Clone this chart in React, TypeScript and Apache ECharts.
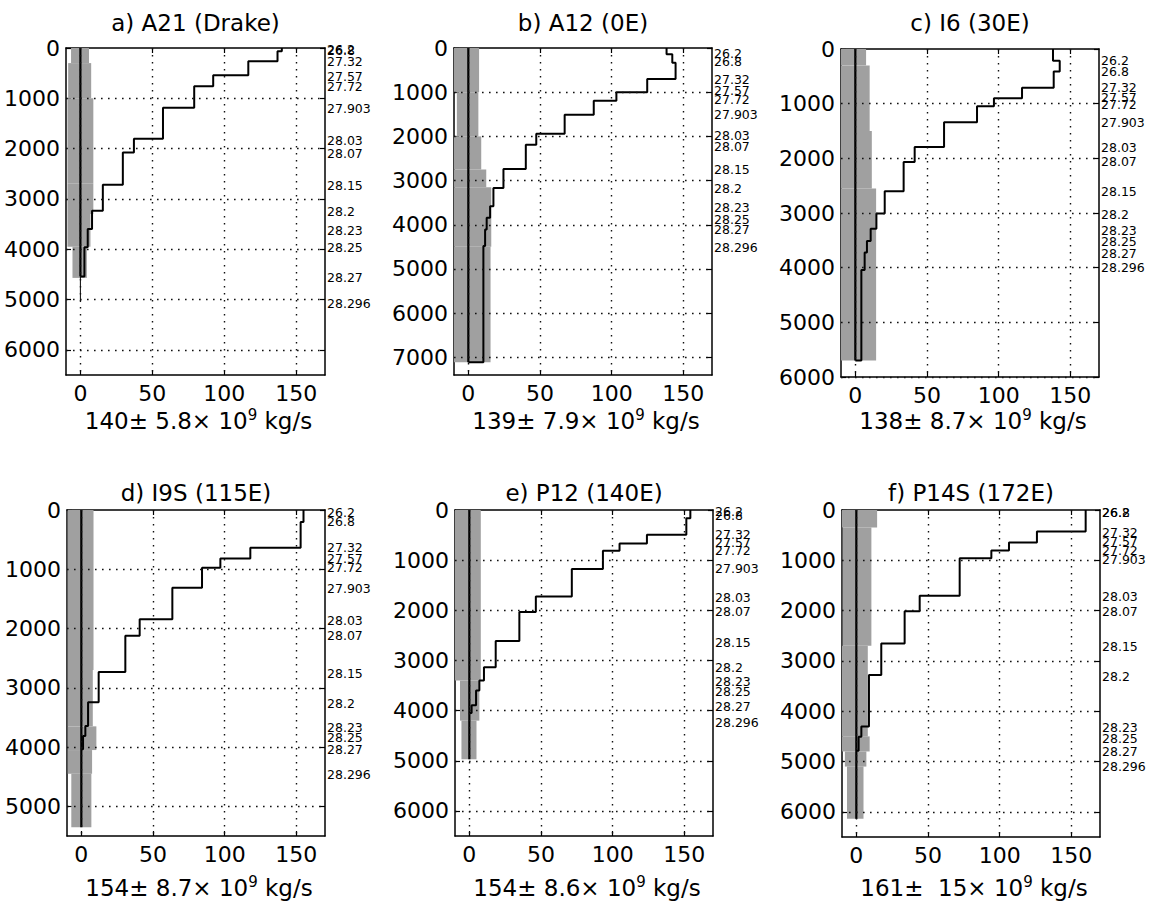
import React, { useEffect, useRef } from 'react';
import * as echarts from 'echarts';

// ---------------- data ----------------
const panelTitles = ['a) A21 (Drake)', 'b) A12 (0E)', 'c) I6 (30E)', 'd) I9S (115E)', 'e) P12 (140E)', 'f) P14S (172E)'];
const transportMean = ['140', '139', '138', '154', '154', '161'];
const transportErr = ['5.8', '7.9', '8.7', '8.7', '8.6', ' 15'];
const densityLabels = ['26.2', '26.8', '27.32', '27.57', '27.72', '27.903', '28.03', '28.07', '28.15', '28.2', '28.23', '28.25', '28.27', '28.296'];

const xTicks = [0, 50, 100, 150];
const xMin = -10;
const xMax = 170;
const depthMax = [6500, 7400, 6000, 5500, 6500, 6500];
const depthTicksA = [0, 1000, 2000, 3000, 4000, 5000, 6000];
const depthTicksB = [0, 1000, 2000, 3000, 4000, 5000, 6000, 7000];
const depthTicksC = [0, 1000, 2000, 3000, 4000, 5000, 6000];
const depthTicksD = [0, 1000, 2000, 3000, 4000, 5000];
const depthTicksE = [0, 1000, 2000, 3000, 4000, 5000, 6000];
const depthTicksF = [0, 1000, 2000, 3000, 4000, 5000, 6000];

// cumulative transport step profiles (layer interfaces in m, layer values in 10^9 kg/s)
const stepDepthA = [0, 66, 264, 541, 759, 1188, 1802, 2079, 2719, 3234, 3597, 3960, 4540];
const stepValueA = [140, 137, 116.7, 92.3, 79.1, 57.4, 37.2, 29.5, 15.6, 8.1, 5.1, 2.8];
const stepDepthB = [0, 143, 331, 699, 1000, 1196, 1511, 1940, 2188, 2737, 3166, 3580, 3843, 4106, 4482, 7114];
const stepValueB = [138.3, 142.3, 144.6, 124.8, 103.3, 87.5, 67.2, 47.4, 40.1, 24.5, 17.5, 15.2, 12.8, 11.7, 10.5];
const stepDepthC = [0, 213, 413, 711, 900, 1046, 1338, 1794, 2067, 2602, 3010, 3289, 3514, 3721, 4043, 5697];
const stepValueC = [137.9, 142.6, 138.4, 116.3, 96.7, 84.9, 61.9, 41.4, 33.7, 20.5, 14.7, 10.7, 8.1, 6.5, 4.2];
const stepDepthD = [0, 201, 638, 818, 974, 1310, 1842, 2122, 2733, 3242, 3646, 3814, 4038];
const stepValueD = [155, 153, 117.9, 97, 84.2, 63.5, 40.7, 30.7, 12.1, 4.7, 2.8, 1.2];
const stepDepthE = [0, 165, 495, 667, 812, 1175, 1723, 2033, 2614, 3135, 3399, 3597, 3894, 4046];
const stepValueE = [154.2, 151.4, 123.9, 104.8, 93.2, 71.5, 46.4, 34.9, 18.4, 10.2, 7, 4.7, 1.6];
const stepDepthF = [0, 429, 647, 805, 957, 1703, 2013, 2653, 3280, 4303, 4508, 4785];
const stepValueF = [160, 126, 106.5, 94.2, 72.1, 44.2, 33.7, 17.4, 8.8, 3.5, 1.6];

// depth of each density label (m)
const labelDepthA = [35, 55, 264, 561, 759, 1208, 1835, 2099, 2739, 3254, 3630, 3973, 4567, 5069];
const labelDepthB = [120, 310, 707, 970, 1173, 1511, 1985, 2226, 2752, 3181, 3602, 3880, 4106, 4504];
const labelDepthC = [210, 410, 700, 885, 1013, 1341, 1797, 2053, 2600, 3020, 3312, 3513, 3732, 4005];
const labelDepthD = [50, 201, 638, 818, 974, 1322, 1865, 2117, 2750, 3265, 3662, 3842, 4038, 4458];
const labelDepthE = [33, 119, 495, 647, 812, 1175, 1749, 2033, 2640, 3142, 3419, 3617, 3914, 4231];
const labelDepthF = [40, 50, 449, 627, 805, 977, 1729, 2026, 2706, 3313, 4323, 4541, 4798, 5102];

// grey uncertainty band (interfaces, left edge, right edge)
const bandDepthA = [0, 300, 1000, 2700, 3300, 3950, 4570];
const bandLeftA = [-6.5, -8.5, -9, -9, -9, -5.5];
const bandRightA = [6, 7.5, 9, 9, 7, 4.5];
const bandDepthB = [0, 1000, 2000, 2750, 3150, 4500, 7114];
const bandLeftB = [-10, -8, -10, -10, -10, -10];
const bandRightB = [7.5, 7, 9, 12.5, 16, 15.5];
const bandDepthC = [0, 300, 1500, 2550, 5697];
const bandLeftC = [-10, -10, -10, -10];
const bandRightC = [7.5, 10, 11.5, 14.5];
const bandDepthD = [0, 2700, 3650, 4050, 4450, 5354];
const bandLeftD = [-9.5, -9.5, -9.5, -9.5, -7];
const bandRightD = [8.5, 8, 10.5, 7.5, 7];
const bandDepthE = [0, 3400, 4200, 4970];
const bandLeftE = [-10, -6.5, -5.5];
const bandRightE = [8, 7, 5];
const bandDepthF = [0, 350, 2700, 4500, 4800, 5100, 6138];
const bandLeftF = [-10, -9.5, -10, -10, -8, -6.5];
const bandRightF = [14.5, 10.5, 8, 9.3, 7, 5];

const zeroDepth = [4540, 7114, 5697, 5354, 4970, 6138];
const zeroTailDepth = [5050, 0, 0, 0, 0, 0];

// ---------------- layout / style ----------------
const boxes = [
  [66, 48, 259, 327],
  [454, 48, 258, 327],
  [841, 49, 258, 328],
  [67, 510, 258, 326],
  [455, 510, 258, 326],
  [842, 510, 258, 327],
];
const titleY = [23, 23, 23, 493, 493, 493];
const footY = [421, 421, 421, 888, 888, 888];
const FONT = '"DejaVu Sans", Arial, sans-serif';

const panels = [
  { sd: stepDepthA, sv: stepValueA, ld: labelDepthA, bd: bandDepthA, bl: bandLeftA, br: bandRightA, yt: depthTicksA },
  { sd: stepDepthB, sv: stepValueB, ld: labelDepthB, bd: bandDepthB, bl: bandLeftB, br: bandRightB, yt: depthTicksB },
  { sd: stepDepthC, sv: stepValueC, ld: labelDepthC, bd: bandDepthC, bl: bandLeftC, br: bandRightC, yt: depthTicksC },
  { sd: stepDepthD, sv: stepValueD, ld: labelDepthD, bd: bandDepthD, bl: bandLeftD, br: bandRightD, yt: depthTicksD },
  { sd: stepDepthE, sv: stepValueE, ld: labelDepthE, bd: bandDepthE, bl: bandLeftE, br: bandRightE, yt: depthTicksE },
  { sd: stepDepthF, sv: stepValueF, ld: labelDepthF, bd: bandDepthF, bl: bandLeftF, br: bandRightF, yt: depthTicksF },
];

function stepPath(depths: number[], values: number[]) {
  const pts: number[][] = [];
  for (let i = 0; i < values.length; i++) {
    pts.push([values[i], depths[i]]);
    pts.push([values[i], depths[i + 1]]);
  }
  pts.push([0, depths[depths.length - 1]]);
  return pts;
}

function buildOption() {
  const grid: any[] = [];
  const xAxis: any[] = [];
  const yAxis: any[] = [];
  const series: any[] = [];
  const graphic: any[] = [];
  const axisLine = { onZero: false, lineStyle: { color: '#000', width: 1.5 } };
  const tickStyle = { color: '#000', width: 1.2 };
  const plain = (v: number) => String(v);

  panels.forEach((p, i) => {
    const [l, t, w, h] = boxes[i];
    grid.push({ left: l, top: t, width: w, height: h, show: false, outerBoundsMode: 'none' });
    xAxis.push({
      gridIndex: i, type: 'value', min: xMin, max: xMax, position: 'bottom',
      axisLine, axisTick: { inside: true, length: 5, customValues: xTicks, lineStyle: tickStyle },
      axisLabel: { customValues: xTicks, formatter: plain, margin: 7, fontSize: 22, fontFamily: FONT, color: '#000' },
      splitLine: { show: false },
    });
    xAxis.push({
      gridIndex: i, type: 'value', min: xMin, max: xMax, position: 'top',
      axisLine, axisTick: { inside: true, length: 5, customValues: xTicks, lineStyle: tickStyle },
      axisLabel: { show: false }, splitLine: { show: false },
    });
    yAxis.push({
      gridIndex: i, type: 'value', min: 0, max: depthMax[i], inverse: true, position: 'left',
      axisLine, axisTick: { inside: true, length: 5, customValues: p.yt, lineStyle: tickStyle },
      axisLabel: { customValues: p.yt, formatter: plain, margin: 6, fontSize: 22, fontFamily: FONT, color: '#000' },
      splitLine: { show: false },
    });
    yAxis.push({
      gridIndex: i, type: 'value', min: 0, max: depthMax[i], inverse: true, position: 'right',
      axisLine, axisTick: { inside: true, length: 5, customValues: p.yt, lineStyle: tickStyle },
      axisLabel: { show: false }, splitLine: { show: false },
    });
    const xi = 2 * i;
    const yi = 2 * i;

    // dotted grid
    series.push({
      type: 'line', xAxisIndex: xi, yAxisIndex: yi, data: [], z: 1, silent: true,
      markLine: {
        silent: true, symbol: 'none', label: { show: false },
        lineStyle: { type: [1.6, 5.4], color: '#111', width: 1.4 },
        data: [
          ...xTicks.map((v) => ({ xAxis: v })),
          ...p.yt.filter((v) => v > 0).map((v) => ({ yAxis: v })),
        ],
      },
    });

    // grey band
    const bandRows = p.bl.map((lv, k) => [p.bd[k], p.bd[k + 1], lv, p.br[k]]);
    series.push({
      type: 'custom', xAxisIndex: xi, yAxisIndex: yi, z: 2, silent: true,
      data: bandRows, encode: { x: [2, 3], y: [0, 1] },
      renderItem: (params: any, api: any) => {
        const a = api.coord([api.value(2), api.value(0)]);
        const b = api.coord([api.value(3), api.value(1)]);
        return {
          type: 'rect',
          shape: { x: Math.min(a[0], b[0]), y: Math.min(a[1], b[1]), width: Math.abs(b[0] - a[0]), height: Math.abs(b[1] - a[1]) },
          style: { fill: '#a0a0a0' },
        };
      },
    });

    // zero line
    series.push({
      type: 'line', xAxisIndex: xi, yAxisIndex: yi, z: 3, silent: true, showSymbol: false,
      data: [[0, 0], [0, zeroDepth[i]]], lineStyle: { color: '#000', width: 2.2 },
    });
    if (zeroTailDepth[i] > 0) {
      series.push({
        type: 'line', xAxisIndex: xi, yAxisIndex: yi, z: 3, silent: true, showSymbol: false,
        data: [[0, zeroDepth[i]], [0, zeroTailDepth[i]]], lineStyle: { color: '#000', width: 1 },
      });
    }

    // step profile
    series.push({
      type: 'line', xAxisIndex: xi, yAxisIndex: yi, z: 4, silent: true, showSymbol: false,
      data: stepPath(p.sd, p.sv), lineStyle: { color: '#000', width: 2 },
    });

    // density labels at right
    series.push({
      type: 'custom', xAxisIndex: xi, yAxisIndex: yi, z: 4, silent: true, clip: false,
      data: p.ld.map((d, k) => [xMax, d, k]), encode: { x: 0, y: 1 },
      renderItem: (params: any, api: any) => {
        const c = api.coord([api.value(0), api.value(1)]);
        return {
          type: 'text', x: c[0] + 2, y: c[1],
          style: {
            text: densityLabels[api.value(2)], fontSize: 12.5, fontFamily: FONT, fill: '#000',
            align: 'left', verticalAlign: 'middle',
          },
        };
      },
    });

    // title
    graphic.push({
      type: 'text', x: l + w / 2, y: titleY[i], silent: true,
      style: { text: panelTitles[i], fontSize: 23, fontFamily: FONT, fill: '#000', align: 'center', verticalAlign: 'middle' },
    });
    // transport footnote
    graphic.push({
      type: 'text', x: l + w / 2 + 3, y: footY[i], silent: true,
      style: {
        text: `{m|${transportMean[i]}± ${transportErr[i]}× 10}{s|9}{m| kg/s}`,
        rich: {
          m: { fontSize: 23, fontFamily: FONT, fill: '#000', lineHeight: 28 },
          s: { fontSize: 15, fontFamily: FONT, fill: '#000', lineHeight: 14, verticalAlign: 'top' },
        },
        fill: '#000', align: 'center', verticalAlign: 'middle',
      },
    });
  });

  return {
    animation: false,
    backgroundColor: '#ffffff',
    grid, xAxis, yAxis, series, graphic,
  };
}

export default function App() {
  const ref = useRef<HTMLDivElement>(null);
  useEffect(() => {
    if (!ref.current) return;
    const chart = echarts.init(ref.current, null, { renderer: 'svg' });
    chart.setOption(buildOption() as any);
    return () => chart.dispose();
  }, []);
  return (
    <div
      ref={ref}
      style={{ position: 'absolute', left: 0, top: 0, width: 1150, height: 905, background: '#fff' }}
    />
  );
}
